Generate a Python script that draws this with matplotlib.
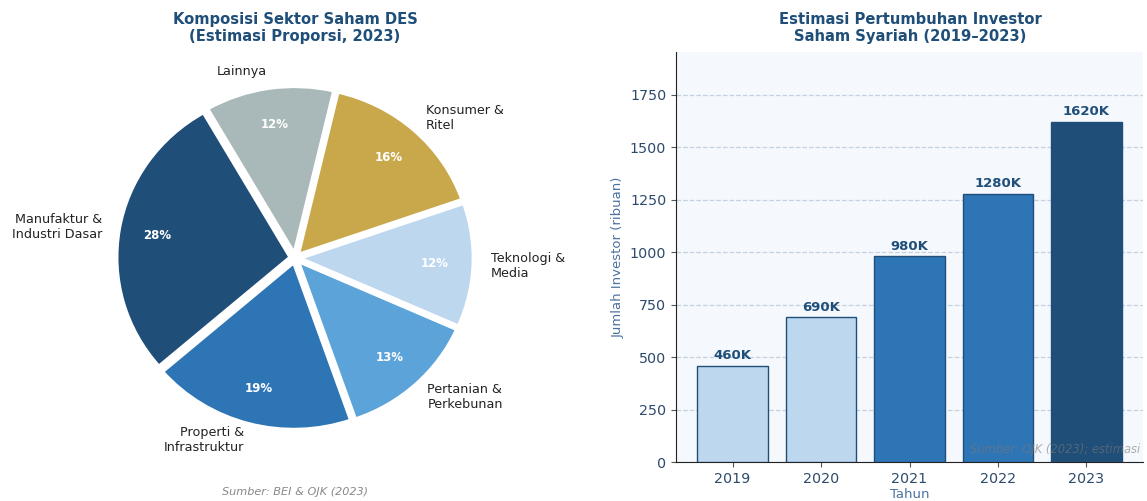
import matplotlib
matplotlib.use("Agg")
import matplotlib.pyplot as plt

# ---- data ----
sectors = ["Manufaktur &\nIndustri Dasar", "Properti &\nInfrastruktur", "Pertanian &\nPerkebunan",
           "Teknologi &\nMedia", "Konsumer &\nRitel", "Lainnya"]
shares = [28, 19, 13, 12, 16, 12]
sector_colors = ["#1f4e79", "#2e75b6", "#5ba3d9", "#bdd7ee", "#c9a84c", "#a9b8b8"]

years = ["2019", "2020", "2021", "2022", "2023"]
investors = [460, 690, 980, 1280, 1620]
bar_colors = ["#bdd7ee", "#bdd7ee", "#2e75b6", "#2e75b6", "#1f4e79"]

W, H = 1147, 501
fig = plt.figure(figsize=(W / 100, H / 100), dpi=100)
fig.patch.set_facecolor("white")

def px_axes(x0, y0_top, x1, y1_top):
    return fig.add_axes([x0 / W, 1 - y1_top / H, (x1 - x0) / W, (y1_top - y0_top) / H])

navy = "#1f4e79"

# ---- pie ----
RX, RY = 173.5, 167.0
ax1 = px_axes(0, 50, 590, 480)
wedges, texts, autotexts = ax1.pie(
    shares, labels=sectors, colors=sector_colors, explode=[0.028] * 6,
    startangle=120, counterclock=True, autopct="%1.0f%%", pctdistance=0.78,
    labeldistance=1.1,
    wedgeprops=dict(edgecolor="white", linewidth=2.5),
    textprops=dict(fontsize=9.2, color="#222222"))
for t in autotexts:
    t.set_color("white")
    t.set_fontweight("bold")
    t.set_fontsize(8.5)
ax1.set_aspect("auto")
ax1.set_xlim(-295 / RX, 295 / RX)
ax1.set_ylim(-(430 - 208) / RY, 208 / RY)
ax1.axis("off")

fig.text(295 / W, 1 - 28 / H, "Komposisi Sektor Saham DES\n(Estimasi Proporsi, 2023)",
         ha="center", va="center", fontsize=10.6, fontweight="bold", color=navy,
         linespacing=1.15)
fig.text(295 / W, 1 - 492 / H, "Sumber: BEI & OJK (2023)", ha="center", va="center",
         fontsize=8.1, style="italic", color="#888888")

# ---- bars ----
ax2 = px_axes(676, 52, 1143, 462)
ax2.set_facecolor("#f5f9fd")
x = list(range(len(years)))
ax2.bar(x, investors, width=0.8, color=bar_colors, edgecolor=navy, linewidth=1.0, zorder=3)
for xi, v in zip(x, investors):
    ax2.text(xi, v + 18, f"{v}K", ha="center", va="bottom", fontsize=9.5,
             fontweight="bold", color=navy, zorder=4)
ax2.set_xticks(x)
ax2.set_xticklabels(years)
ax2.set_xlim(-0.64, 4.64)
ax2.set_ylim(0, 1955)
ax2.set_yticks([0, 250, 500, 750, 1000, 1250, 1500, 1750])
ax2.tick_params(axis="both", labelsize=10.3, colors="#2d4a6b")
ax2.tick_params(axis="both", color="#555555")
ax2.grid(axis="y", linestyle="--", color="#c5d1e0", linewidth=0.9, zorder=0)
ax2.set_axisbelow(True)
for s in ["top", "right"]:
    ax2.spines[s].set_visible(False)
for s in ["left", "bottom"]:
    ax2.spines[s].set_color("#222222")
ax2.set_ylabel("Jumlah Investor (ribuan)", fontsize=9.5, color="#4a72a0")
ax2.set_xlabel("Tahun", fontsize=9.5, color="#4a72a0", labelpad=2)
ax2.text(0.995, 0.03, "Sumber: OJK (2023); estimasi", transform=ax2.transAxes,
         ha="right", va="center", fontsize=8.3, style="italic", color="#777777",
         alpha=0.6, zorder=5)

fig.text(910 / W, 1 - 28 / H, "Estimasi Pertumbuhan Investor\nSaham Syariah (2019–2023)",
         ha="center", va="center", fontsize=10.6, fontweight="bold", color=navy,
         linespacing=1.15)

fig.savefig("out.png", dpi=100)
